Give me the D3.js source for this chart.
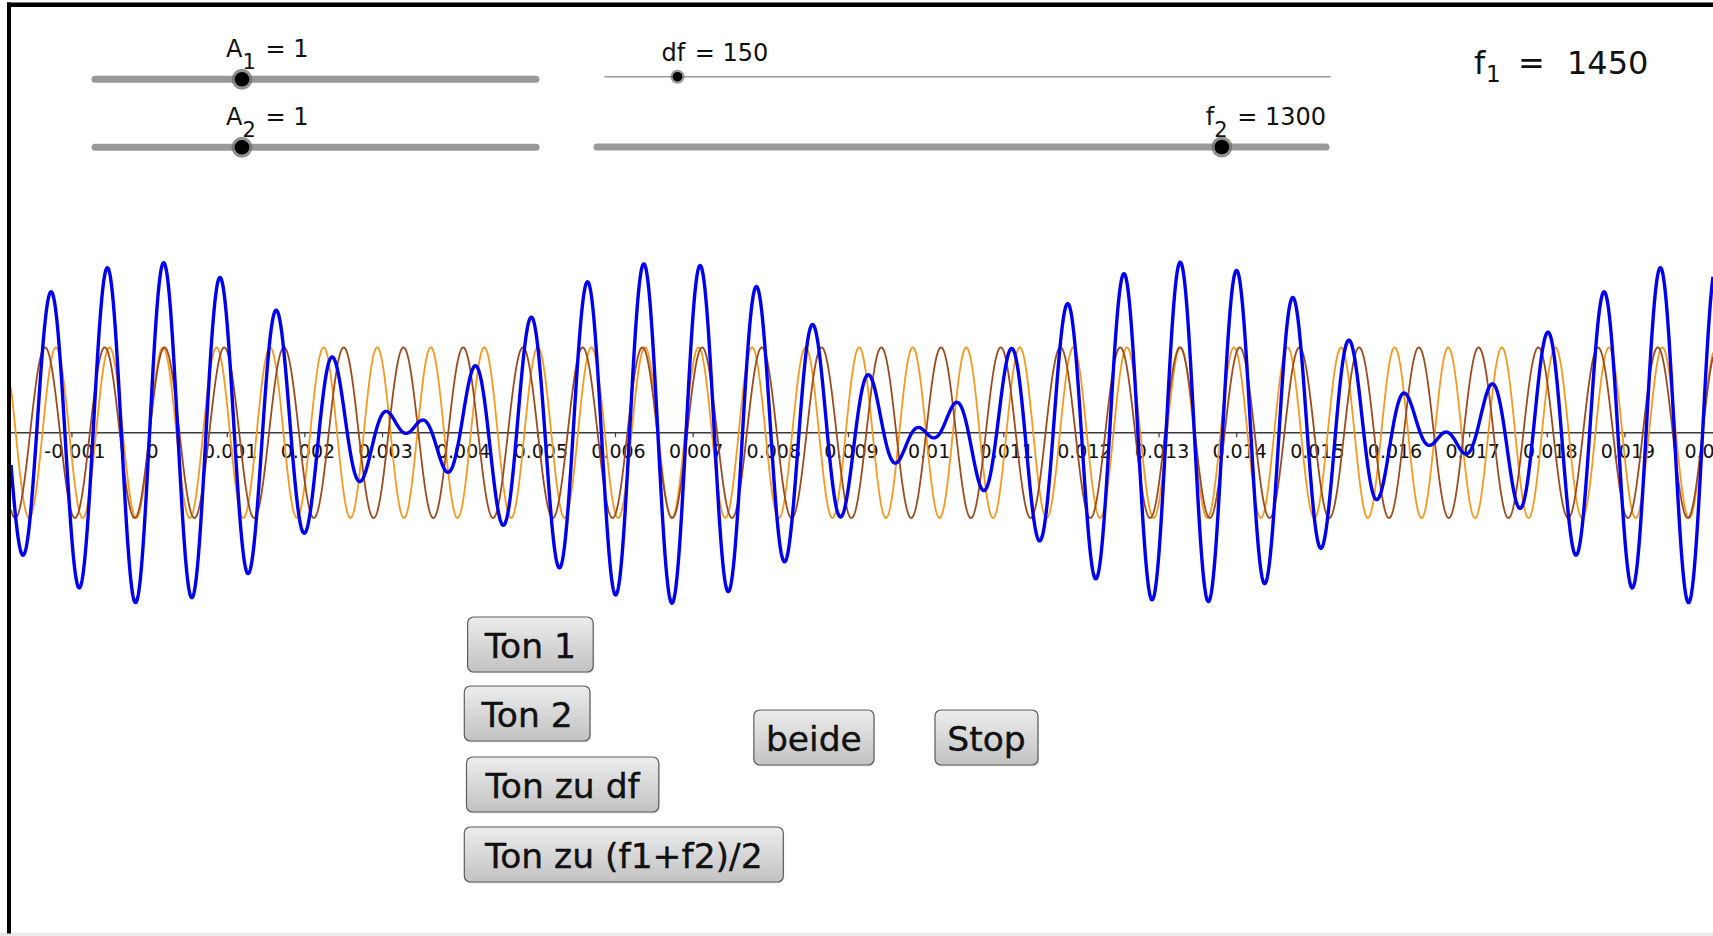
<!DOCTYPE html>
<html><head><meta charset="utf-8">
<script src="https://cdn.jsdelivr.net/npm/d3@7"></script>
<style>
body{margin:0;background:#fff;overflow:hidden}
svg{display:block;font-family:"DejaVu Sans",sans-serif}
</style>
</head><body><svg id="c" width="1713" height="936"></svg>
<script>
// ---------- data ----------
const tickValues = [-0.001,0,0.001,0.002,0.003,0.004,0.005,0.006,0.007,0.008,0.009,0.01,0.011,0.012,0.013,0.014,0.015,0.016,0.017,0.018,0.019,0.02];
const tickLabels = ["-0.001","0","0.001","0.002","0.003","0.004","0.005","0.006","0.007","0.008","0.009","0.01","0.011","0.012","0.013","0.014","0.015","0.016","0.017","0.018","0.019","0.02"];
const amplitudes = [1, 1];          // A1, A2
const frequencies = [1450, 1300];   // f1, f2
const seriesColors = ["#f7981f", "#9b4b1d", "#0000f0"];
const sliderBase = ["A", "A", "df", "f"];
const sliderSub = ["1", "2", "", "2"];
const sliderValues = [1, 1, 150, 1300];
const sliderMin = [0, 0, 0, 100];
const sliderMax = [3, 3, 1500, 1500];
const buttonLabels = ["Ton 1", "Ton 2", "Ton zu df", "Ton zu (f1+f2)/2", "beide", "Stop"];

// ---------- layout ----------
const W = 1713, H = 936;
const svg = d3.select("#c");
const defs = svg.append("defs");
const grad = defs.append("linearGradient").attr("id","btn").attr("x1",0).attr("y1",0).attr("x2",0).attr("y2",1);
grad.append("stop").attr("offset","0%").attr("stop-color","#ededed");
grad.append("stop").attr("offset","100%").attr("stop-color","#c2c2c2");
defs.append("clipPath").attr("id","plot").append("rect").attr("x",11).attr("y",0).attr("width",W-11).attr("height",H);

const x = d3.scaleLinear().domain([0, 0.001]).range([149.6, 227.25]);
const y = d3.scaleLinear().domain([0, 1]).range([432.7, 347.4]);

// frame
svg.append("rect").attr("x",0).attr("y",0).attr("width",W).attr("height",H).attr("fill","#fff");
svg.append("rect").attr("x",0).attr("y",933).attr("width",W).attr("height",3).attr("fill","#e9e9e9");
svg.append("rect").attr("x",7).attr("y",2.5).attr("width",W-7).attr("height",4.5).attr("fill","#000");
svg.append("rect").attr("x",7).attr("y",2.5).attr("width",4).attr("height",931).attr("fill","#000");

// axis
const axisG = svg.append("g").attr("clip-path","url(#plot)");
axisG.append("line").attr("x1",11).attr("x2",W).attr("y1",y(0)).attr("y2",y(0))
  .attr("stroke","#3a3a3a").attr("stroke-width",1.4);
axisG.selectAll("line.tick").data(tickValues).join("line").attr("class","tick")
  .attr("x1",d=>x(d)).attr("x2",d=>x(d)).attr("y1",y(0)).attr("y2",y(0)+4.5)
  .attr("stroke","#3a3a3a").attr("stroke-width",1.2);
axisG.selectAll("text.tl").data(tickValues).join("text").attr("class","tl")
  .attr("x",d=>x(d)+3).attr("y",458).attr("text-anchor","middle")
  .attr("font-size",19).attr("fill","#111")
  .text((d,i)=>tickLabels[i]);

// curves
const t0 = x.invert(11), t1 = x.invert(W);
const N = 4000;
const ts = d3.range(N+1).map(i => t0 + (t1-t0)*i/N);
const comp = (k,t) => amplitudes[k]*Math.sin(2*Math.PI*frequencies[k]*t);
const series = [
  ts.map(t => [t, comp(0,t)]),
  ts.map(t => [t, comp(1,t)]),
  ts.map(t => [t, comp(0,t)+comp(1,t)])
];
const line = d3.line().x(d=>x(d[0])).y(d=>y(d[1]));
const curveG = svg.append("g").attr("clip-path","url(#plot)");
curveG.selectAll("path").data(series).join("path")
  .attr("d", line).attr("fill","none")
  .attr("stroke",(d,i)=>seriesColors[i])
  .attr("stroke-width",(d,i)=> i===2 ? 3.4 : 1.8)
  .attr("stroke-linejoin","round");

// sliders
const sliderX0 = [95, 95, 605, 597];
const sliderX1 = [536, 536, 1330, 1326];
const sliderY = [79.3, 147.3, 76.7, 147];
const sliderThick = [true, true, false, true];
sliderValues.forEach((v,i) => {
  const s = d3.scaleLinear().domain([sliderMin[i], sliderMax[i]]).range([sliderX0[i], sliderX1[i]]);
  const g = svg.append("g");
  g.append("line").attr("x1",sliderX0[i]).attr("x2",sliderX1[i]).attr("y1",sliderY[i]).attr("y2",sliderY[i])
    .attr("stroke","#999").attr("stroke-width", sliderThick[i] ? 7 : 1.6).attr("stroke-linecap","round");
  const kx = s(v);
  if (sliderThick[i]) {
    g.append("circle").attr("cx",kx).attr("cy",sliderY[i]).attr("r",10.5).attr("fill","#6e6e6e").attr("opacity",0.75);
    g.append("circle").attr("cx",kx).attr("cy",sliderY[i]).attr("r",7.3).attr("fill","#000");
  } else {
    g.append("circle").attr("cx",kx).attr("cy",sliderY[i]).attr("r",7).attr("fill","#6e6e6e").attr("opacity",0.7);
    g.append("circle").attr("cx",kx).attr("cy",sliderY[i]).attr("r",4.8).attr("fill","#000");
  }
  const txt = g.append("text").attr("x",kx-16).attr("y",sliderY[i] - (sliderThick[i] ? 22 : 16))
    .attr("font-size",24).attr("fill","#111").attr("xml:space","preserve");
  txt.append("tspan").text(sliderBase[i]);
  if (sliderSub[i]) txt.append("tspan").attr("font-size",21).attr("dy",12).text(sliderSub[i]);
  txt.append("tspan").attr("dy", sliderSub[i] ? -12 : 0).attr("dx", 2).text(" = " + sliderValues[i]);
});

// f1 text
const f1t = svg.append("text").attr("y",74).attr("font-size",32).attr("fill","#111");
f1t.append("tspan").attr("x",1474).text("f");
f1t.append("tspan").attr("x",1486).attr("dy",8).attr("font-size",23).text("1");
f1t.append("tspan").attr("x",1518).attr("dy",-8).text("=");
f1t.append("tspan").attr("x",1567).text(String(frequencies[0]));

// buttons
const buttonBox = [[467.6,617,125.6,55],[464.3,686,125.7,55],[466.5,757,192.3,55],[464.3,827,319,55],[753.8,710,120.2,55],[935,710,103,55]];
buttonLabels.forEach((lab,i) => {
  const [bx,by,bw,bh] = buttonBox[i];
  const g = svg.append("g");
  g.append("rect").attr("x",bx+1).attr("y",by+1.5).attr("width",bw).attr("height",bh).attr("rx",6)
    .attr("fill","#000").attr("opacity",0.12);
  g.append("rect").attr("x",bx).attr("y",by).attr("width",bw).attr("height",bh).attr("rx",6)
    .attr("fill","url(#btn)").attr("stroke","#5c5c5c").attr("stroke-width",1.2);
  g.append("text").attr("x",bx+bw/2).attr("y",by+41).attr("text-anchor","middle")
    .attr("font-size",34.5).attr("fill","#111").attr("stroke","#111").attr("stroke-width",0.4).text(lab);
});
</script>
</body></html>
